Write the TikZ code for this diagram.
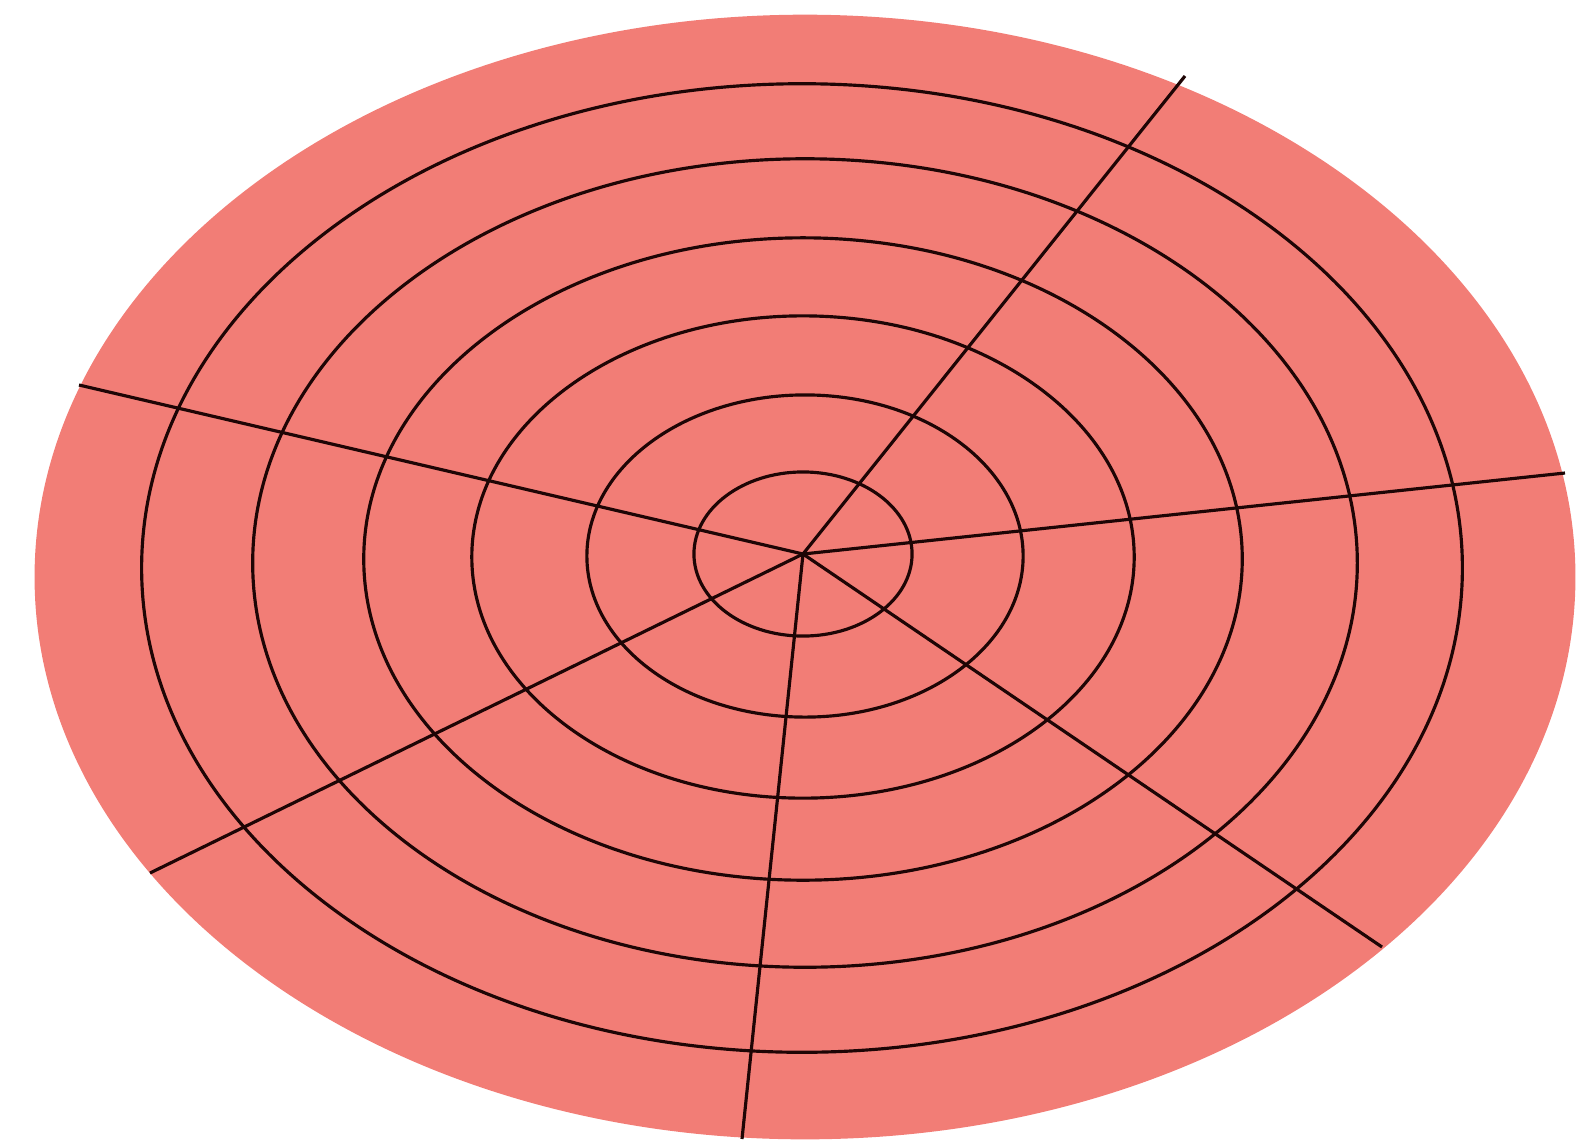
\documentclass[tikz,border=0pt]{standalone}
\usepackage{tikz}
\definecolor{disc}{RGB}{242,125,118}
\definecolor{wire}{RGB}{30,5,5}
\begin{document}
\begin{tikzpicture}[x=0.01cm, y=-0.01cm, ring/.style={draw=wire, line width=0.9pt}]
			\useasboundingbox (0,0) rectangle (1588,1139);
			\fill[disc] (805,577) ellipse [x radius=7.70cm, y radius=5.62cm];
			\coordinate (hub) at (803,554);
			\coordinate (ne) at (1185,76);
			\coordinate (w) at (79,385);
			\coordinate (e) at (1565,473);
			\coordinate (sw) at (150,873);
			\coordinate (s) at (742,1139);
			\coordinate (se) at (1382,947);
			\draw[ring] (803,554) ellipse [x radius=1.09cm, y radius=0.82cm];
			\draw[ring] (805,556) ellipse [x radius=2.18cm, y radius=1.61cm];
			\draw[ring] (803,557) ellipse [x radius=3.31cm, y radius=2.41cm];
			\draw[ring] (803,559) ellipse [x radius=4.39cm, y radius=3.21cm];
			\draw[ring] (805,563) ellipse [x radius=5.52cm, y radius=4.04cm];
			\draw[ring] (802,568) ellipse [x radius=6.60cm, y radius=4.84cm];
			\draw[ring] (hub) -- (ne);
			\draw[ring] (hub) -- (w);
			\draw[ring] (hub) -- (e);
			\draw[ring] (hub) -- (sw);
			\draw[ring] (hub) -- (s);
			\draw[ring] (hub) -- (se);
			\end{tikzpicture}
\end{document}
